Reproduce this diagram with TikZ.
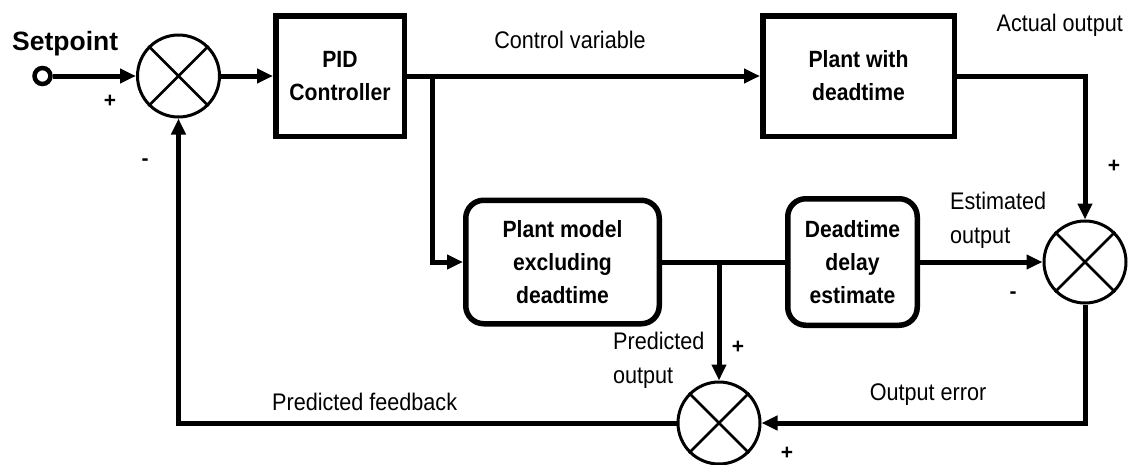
\documentclass[tikz,border=0pt]{standalone}
\usepackage{fontspec}
\setmainfont{Liberation Sans}[FakeStretch=0.9]
\newfontfamily\spfont{Liberation Sans}
\usetikzlibrary{arrows.meta}
\begin{document}
\begin{tikzpicture}[x=1pt,y=-1pt,
  conn/.style={line width=5pt},
  arr/.style={conn,-{Triangle[length=16pt,width=14pt]}},
  blk/.style={draw,line width=5.5pt,inner sep=0,align=center,font=\fontsize{23.5}{33}\selectfont\bfseries},
  rblk/.style={blk,rounded corners=18pt},
  sumj/.style={draw,circle,line width=3pt,minimum size=82pt,inner sep=0},
  crs/.style={line width=2.5pt},
  lbl/.style={inner sep=0,font=\fontsize{24}{34}\selectfont},
  sgn/.style={inner sep=0,font=\spfont\fontsize{21}{21}\selectfont\bfseries}]
\useasboundingbox (0,0) rectangle (1128,464);

% blocks
\node[blk,minimum width=128.5pt,minimum height=120.5pt] (pid) at (340,76) {PID\\Controller};
\node[blk,minimum width=191.5pt,minimum height=120.5pt] (plant) at (858.5,76) {Plant with\\deadtime};
\node[rblk,minimum width=193.5pt,minimum height=123.5pt] (model) at (562.5,262) {Plant model\\excluding\\deadtime};
\node[rblk,minimum width=129.5pt,minimum height=126.5pt] (dead) at (852.5,262) {Deadtime\\delay\\estimate};

% summing junctions
\node[sumj] (s1) at (178.5,76) {};
\node[sumj] (s2) at (1085,262) {};
\node[sumj] (s3) at (719,423) {};
\foreach \s in {s1,s2,s3}{
  \draw[crs] (\s.north east) -- (\s.south west) (\s.north west) -- (\s.south east);
}

% setpoint terminal
\node[draw,circle,line width=4.5pt,minimum size=16pt,inner sep=0,fill=white] (term) at (42.5,76) {};
\node[inner sep=0,anchor=base west,font=\spfont\fontsize{26.5}{26.5}\selectfont\bfseries] (sp) at (12,50) {Setpoint};

% coordinates
\coordinate (b1) at (432,76);
\coordinate (j) at (719,262);

% connectors
\draw[arr] (term) -- (s1);
\draw[arr] (s1) -- (pid);
\draw[arr] (pid.east) -- (plant.west);
\draw[arr] (plant.east) -| (s2.north);
\draw[arr] (b1) |- (model.west);
\draw[conn] (model.east) -- (dead.west);
\draw[arr] (j) -- (s3.north);
\draw[arr] (dead.east) -- (s2.west);
\draw[arr] (s2.south) |- (s3.east);
\draw[arr] (s3.west) -| (s1.south);

% labels
\node[lbl] (lcv) at (570,40) {Control variable};
\node[lbl,anchor=east] (lao) at (1123,25) {Actual output};
\node[lbl,anchor=west,align=left] (leo) at (950,220) {Estimated\\output};
\node[lbl,anchor=west,align=left] (lpo) at (613,360) {Predicted\\output};
\node[lbl] (loe) at (928,395) {Output error};
\node[lbl,anchor=west] (lpf) at (272,402) {Predicted feedback};

% signs
\node[sgn] (p1) at (110,101) {+};
\node[sgn] (m1) at (145,162) {-};
\node[sgn] (p2) at (1114,166) {+};
\node[sgn] (m2) at (1013,295) {-};
\node[sgn] (p3) at (738,347) {+};
\node[sgn] (p4) at (787,453) {+};
\end{tikzpicture}
\end{document}
